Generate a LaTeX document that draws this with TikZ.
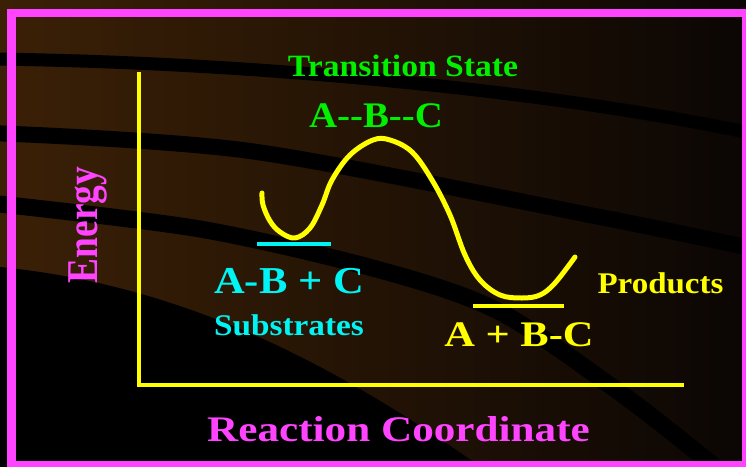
\documentclass[tikz,border=0pt]{standalone}
\usepackage{fontspec}
\setmainfont{Liberation Serif}
\usepackage{tikz}
\definecolor{bgl}{HTML}{3B2006}
\definecolor{bgm}{HTML}{2C1806}
\definecolor{bgr}{HTML}{0B0604}
\definecolor{mag}{HTML}{FF44FF}
\definecolor{grn}{HTML}{00F000}
\definecolor{cyn}{HTML}{00F4F4}
\definecolor{ylw}{HTML}{FFFF00}
\tikzset{
  band/.style={draw=black, line width=14pt},
  axis/.style={draw=ylw, line width=4.5pt},
  level/.style={line width=4pt},
  lbl/.style={anchor=base, inner sep=0pt},
  fs/.style={font=\fontsize{#1}{#1}\selectfont\bfseries},
}

\begin{document}
\begin{tikzpicture}[x=1pt, y=-1pt]
  \useasboundingbox (0,0) rectangle (746,466);
  % background
  \shade[left color=bgl, middle color=bgm, right color=bgr] (0,0) rectangle (746,466);
  \fill[black] (0,267) .. controls (180,285) and (330,360) .. (485,470) -- (0,470) -- cycle;
  \draw[band, line width=13pt] (-10,59) .. controls (250,62) and (550,90) .. (760,135);
  \draw[band, line width=16pt] plot[smooth] coordinates {(-10,133) (250,151) (600,217) (760,250)};
  \draw[band, line width=17pt] plot[smooth] coordinates {(-10,203) (200,229) (380,270) (500,312) (626,397) (725,475)};
  \draw[mag, line width=8.5pt] (11.5,13) rectangle (746.3,465.3);
  % axes
  \coordinate (top) at (139,72);
  \coordinate (org) at (139,385);
  \coordinate (end) at (684,385);
  \draw[axis] (top) -- (org) -- (end);
  % energy profile
  \draw[ylw, line width=5pt, line cap=round, line join=round] plot[smooth, tension=0.6] coordinates {
    (262,193) (263,205) (270,221) (280,232) (295,238) (310,228) (322,205) (332,180)
    (350,155) (373,140) (390,140) (412,152) (432,180) (450,215) (465,255) (480,280)
    (500,295) (522,298) (540,295) (555,283) (575,257)};
  \draw[level, cyn] (257,244) -- (331,244);
  \draw[level, ylw] (473,305.5) -- (564,305.5);
  % labels
  \node[lbl, fs=31, text=grn, xscale=1.085] (ts) at (403,76) {Transition State};
  \node[lbl, fs=36, text=grn, xscale=1.08] (abc) at (376,127) {A-{}-B-{}-C};
  \node[lbl, fs=38, text=cyn, xscale=1.12] (sub) at (289,293) {A-B + C};
  \node[lbl, fs=30, text=cyn, xscale=1.11] (subl) at (289,335) {Substrates};
  \node[lbl, fs=30, text=ylw, xscale=1.10] (prodl) at (660.5,293) {Products};
  \node[lbl, fs=36, text=ylw, xscale=1.18] (prod) at (519,346) {A + B-C};
  \node[lbl, fs=36, text=mag, xscale=1.2] (rc) at (398.5,441) {Reaction Coordinate};
  \node[lbl, fs=44, text=mag, rotate=90, xscale=0.85] (en) at (97,225) {Energy};
\end{tikzpicture}
\end{document}
